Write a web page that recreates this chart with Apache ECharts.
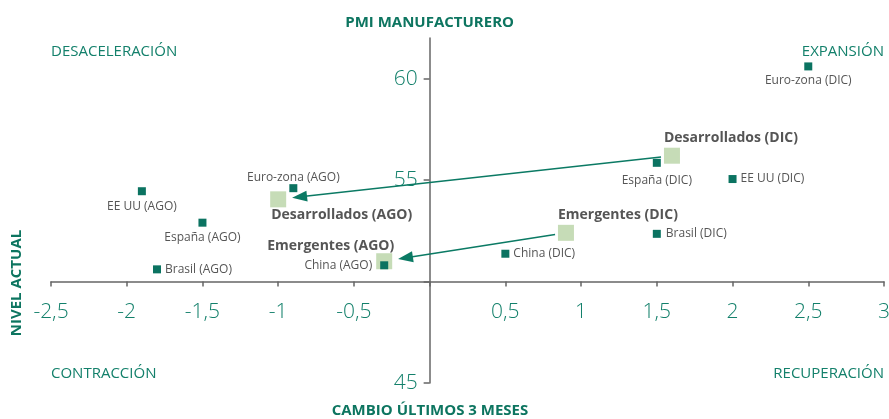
<!DOCTYPE html>
<html>
<head>
<meta charset="utf-8">
<script src="https://cdn.jsdelivr.net/npm/echarts@6/dist/echarts.min.js"></script>
<style>html,body{margin:0;padding:0;background:#fff}#c{width:889px;height:419px}</style>
</head>
<body>
<div id="c"></div>
<script>
// ---- data ----
const countryNames = ['Euro-zona (DIC)', 'España (DIC)', 'EE UU (DIC)', 'Brasil (DIC)', 'China (DIC)',
                      'Euro-zona (AGO)', 'EE UU (AGO)', 'España (AGO)', 'Brasil (AGO)', 'China (AGO)'];
const countryX = [2.5, 1.5, 2.0, 1.5, 0.5, -0.9, -1.9, -1.5, -1.8, -0.3];
const countryY = [60.6, 55.85, 55.05, 52.35, 51.37, 54.6, 54.45, 52.9, 50.6, 50.8];

const aggNames = ['Desarrollados (DIC)', 'Emergentes (DIC)', 'Desarrollados (AGO)', 'Emergentes (AGO)'];
const aggX = [1.6, 0.9, -1.0, -0.3];
const aggY = [56.2, 52.4, 54.05, 51.0];

// arrows: from DIC aggregate (index) to AGO aggregate (index)
const arrowFrom = [0, 1];
const arrowTo = [2, 3];

const xTickLabels = [-2.5, -2, -1.5, -1, -0.5, 0.5, 1, 1.5, 2, 2.5, 3];
const yTickLabels = [45, 55, 60];
const yTicks = [45, 50, 55, 60];

// ---- styles ----
const TEAL = '#13806b';
const TEAL_DARK = '#0d7560';
const MARK = '#0b7361';
const AGG = '#c6dcb7';
const GREY_TXT = '#555555';
const FONT = "'Open Sans', 'Noto Sans', sans-serif";

const countryLabel = {
  'Euro-zona (DIC)': {position: 'bottom', distance: 4},
  'España (DIC)': {position: 'bottom', distance: 8},
  'EE UU (DIC)': {position: 'right', distance: 4},
  'Brasil (DIC)': {position: 'right', distance: 5},
  'China (DIC)': {position: 'right', distance: 4},
  'Euro-zona (AGO)': {position: 'top', distance: 1},
  'EE UU (AGO)': {position: 'bottom', distance: 5},
  'España (AGO)': {position: 'bottom', distance: 5},
  'Brasil (AGO)': {position: 'right', distance: 4},
  'China (AGO)': {position: 'left', distance: 8}
};
const aggLabel = {
  'Desarrollados (DIC)': {position: 'top', align: 'left', offset: [-8, 0], distance: 3},
  'Emergentes (DIC)': {position: 'top', align: 'left', offset: [-8, 0], distance: 3},
  'Desarrollados (AGO)': {position: 'bottom', align: 'left', offset: [-7, 0], distance: 1},
  'Emergentes (AGO)': {position: 'top', align: 'right', offset: [10, 0], distance: 0}
};

const xMin = -2.5, xMax = 3, xCross = 0;
const yMin = 45, yMax = 62, yCross = 50;
const W = 889, H = 419;
const gridLeft = 51, gridRight = 5, gridTop = 38, gridBottom = 36;
const gridH = H - gridTop - gridBottom;
const gridW = W - gridLeft - gridRight;
const xOffset = -gridH * (yCross - yMin) / (yMax - yMin);
const yOffset = -gridW * (xCross - xMin) / (xMax - xMin);

const countryData = countryNames.map((n, i) => ({
  name: n, value: [countryX[i], countryY[i]],
  label: Object.assign({show: true, formatter: '{b}', color: GREY_TXT, fontSize: 12, fontFamily: FONT}, countryLabel[n])
}));
const aggData = aggNames.map((n, i) => ({
  name: n, value: [aggX[i], aggY[i]],
  label: Object.assign({show: true, formatter: '{b}', color: GREY_TXT, fontSize: 14, fontWeight: 'bold', fontFamily: FONT}, aggLabel[n])
}));
const arrowData = arrowFrom.map((f, i) => [aggX[f], aggY[f], aggX[arrowTo[i]], aggY[arrowTo[i]]]);

const chart = echarts.init(document.getElementById('c'), null, {renderer: 'canvas'});
chart.setOption({
  animation: false,
  textStyle: {fontFamily: FONT},
  grid: {left: gridLeft, right: gridRight, top: gridTop, bottom: gridBottom, containLabel: false, outerBoundsMode: 'none'},
  xAxis: {
    type: 'value', min: xMin, max: xMax, interval: 0.5,
    offset: xOffset,
    axisLine: {onZero: false, lineStyle: {color: '#666', width: 1.5}},
    axisTick: {show: true, length: 5, lineStyle: {color: '#666', width: 1.5}},
    axisLabel: {
      customValues: xTickLabels,
      formatter: v => String(v).replace('.', ','),
      color: TEAL, fontSize: 21, fontWeight: 300, fontFamily: FONT, margin: 20
    },
    splitLine: {show: false}
  },
  yAxis: {
    type: 'value', min: yMin, max: yMax, interval: 5,
    offset: yOffset,
    name: 'PMI MANUFACTURERO', nameLocation: 'end', nameGap: 8,
    nameTextStyle: {color: TEAL_DARK, fontSize: 15, fontWeight: 'bold', fontFamily: FONT, align: 'center', verticalAlign: 'bottom'},
    axisLine: {onZero: false, lineStyle: {color: '#666', width: 1.5}},
    axisTick: {show: true, length: 6, customValues: yTicks, lineStyle: {color: '#666', width: 1.5}},
    axisLabel: {
      customValues: yTickLabels,
      color: TEAL, fontSize: 21, fontWeight: 300, fontFamily: FONT, margin: 12
    },
    splitLine: {show: false}
  },
  graphic: [
    {type: 'text', left: 51, top: 44, style: {text: 'DESACELERACIÓN', fill: TEAL, font: '15px ' + FONT}},
    {type: 'text', right: 5, top: 44, style: {text: 'EXPANSIÓN', fill: TEAL, font: '15px ' + FONT}},
    {type: 'text', left: 51, top: 366, style: {text: 'CONTRACCIÓN', fill: TEAL, font: '15px ' + FONT}},
    {type: 'text', right: 5, top: 366, style: {text: 'RECUPERACIÓN', fill: TEAL, font: '15px ' + FONT}},
    {type: 'text', x: 430, y: 411, style: {text: 'CAMBIO ÚLTIMOS 3 MESES', fill: TEAL_DARK, font: 'bold 15px ' + FONT, textAlign: 'center', textVerticalAlign: 'middle'}},
    {type: 'text', x: 17, y: 283, rotation: Math.PI / 2, style: {text: 'NIVEL ACTUAL', fill: TEAL_DARK, font: 'bold 15px ' + FONT, textAlign: 'center', textVerticalAlign: 'middle'}}
  ],
  series: [
    {
      type: 'scatter', symbol: 'rect', symbolSize: 16, z: 2,
      itemStyle: {color: AGG, opacity: 1}, data: aggData
    },
    {
      type: 'custom', z: 3,
      renderItem: function (params, api) {
        const p1 = api.coord([api.value(0), api.value(1)]);
        const p2 = api.coord([api.value(2), api.value(3)]);
        const dx = p2[0] - p1[0], dy = p2[1] - p1[1];
        const len = Math.sqrt(dx * dx + dy * dy);
        const ux = dx / len, uy = dy / len;
        const s = [p1[0] + ux * 11, p1[1] + uy * 11];
        const tip = [p2[0] - ux * 14, p2[1] - uy * 14];
        const hl = 15, hw = 5.5;
        const base = [tip[0] - ux * hl, tip[1] - uy * hl];
        const nx = -uy, ny = ux;
        return {
          type: 'group',
          children: [
            {type: 'line', shape: {x1: s[0], y1: s[1], x2: base[0] + ux * 2, y2: base[1] + uy * 2},
             style: {stroke: '#0b7a64', lineWidth: 1.5}},
            {type: 'polygon', shape: {points: [tip, [base[0] + nx * hw, base[1] + ny * hw], [base[0] - nx * hw, base[1] - ny * hw]]},
             style: {fill: '#0b7a64'}}
          ]
        };
      },
      data: arrowData
    },
    {
      type: 'scatter', symbol: 'rect', symbolSize: 8, z: 4,
      itemStyle: {color: MARK, opacity: 1}, data: countryData
    }
  ]
});
</script>
</body>
</html>
